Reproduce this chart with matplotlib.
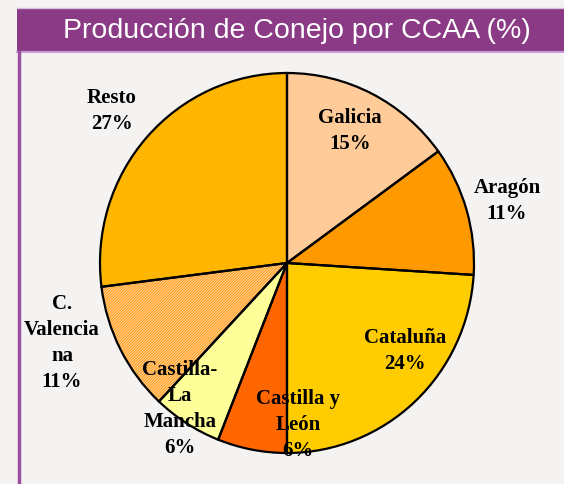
import matplotlib.pyplot as plt
from matplotlib.patches import Rectangle
from matplotlib.lines import Line2D

# datos del grafico
regiones = ['Galicia', 'Aragón', 'Cataluña', 'Castilla y\nLeón',
            'Castilla-\nLa\nMancha', 'C.\nValencia\nna', 'Resto']
porcentajes = [15, 11, 24, 6, 6, 11, 27]
colores = ['#FFCC99', '#FF9900', '#FFCC00', '#FF6600', '#FFFF99', '#FFCC99', '#FFCC00']
tramas = [None, None, None, None, None, '////////////', '////////////']
color_trama = [None, None, None, None, None, '#FF9900', '#FF9900']

# posicion del texto de cada etiqueta (pixeles de la imagen)
pos_etiquetas = [(350, 131), (507, 201), (405, 351), (298, 425),
                 (180, 409), (62, 343), (112, 111)]

W, H = 564, 485
cx, cy, rx, ry = 287, 264, 187, 190

plt.rcParams['hatch.linewidth'] = 0.6

fig = plt.figure(figsize=(W / 100, H / 100), dpi=100)
fig.patch.set_facecolor('#F5F3F1')

# barra de titulo
fig.patches.append(Rectangle((17 / W, 1 - 52 / H), 1 - 17 / W, 43 / H,
                             transform=fig.transFigure, facecolor='#8B3A86',
                             edgecolor='none', zorder=1))
fig.lines.append(Line2D([17 / W, 1], [1 - 53 / H, 1 - 53 / H], transform=fig.transFigure,
                        color='#C89AD6', lw=1.5))
fig.lines.append(Line2D([17 / W, 1], [1 - 9 / H, 1 - 9 / H], transform=fig.transFigure,
                        color='#D8C0DC', lw=1))
fig.lines.append(Line2D([19 / W, 19 / W], [0, 1 - 53 / H], transform=fig.transFigure,
                        color='#9B4FA0', lw=2.5))
fig.text(297 / W, 1 - 31 / H, 'Producción de Conejo por CCAA (%)',
         ha='center', va='center', color='white', fontsize=20.5,
         family=['Liberation Sans', 'DejaVu Sans'])

ax = fig.add_axes([(cx - rx) / W, (H - cy - ry) / H, 2 * rx / W, 2 * ry / H])

# relleno (con trama donde corresponde)
wedges, _ = ax.pie(porcentajes, colors=colores, startangle=90, counterclock=False,
                   radius=1, frame=True, wedgeprops=dict(linewidth=0))
for w, t, tc in zip(wedges, tramas, color_trama):
    if t:
        w.set_hatch(t)
        w.set_edgecolor(tc)
        w.set_linewidth(0)

# contorno negro
ax.pie(porcentajes, colors=colores, startangle=90, counterclock=False,
       radius=1, frame=True,
       wedgeprops=dict(fill=False, edgecolor='black', linewidth=1.6))
ax.set_aspect('auto')
ax.set_xlim(-1, 1)
ax.set_ylim(-1, 1)
ax.axis('off')

for reg, p, (px, py) in zip(regiones, porcentajes, pos_etiquetas):
    ax.text((px - cx) / rx, (cy - py) / ry, f'{reg}\n{p}%', ha='center', va='center',
            fontsize=15, fontweight='bold', family='Liberation Serif',
            linespacing=1.4, clip_on=False, zorder=5)

fig.savefig('out.png', dpi=100, facecolor=fig.get_facecolor())
